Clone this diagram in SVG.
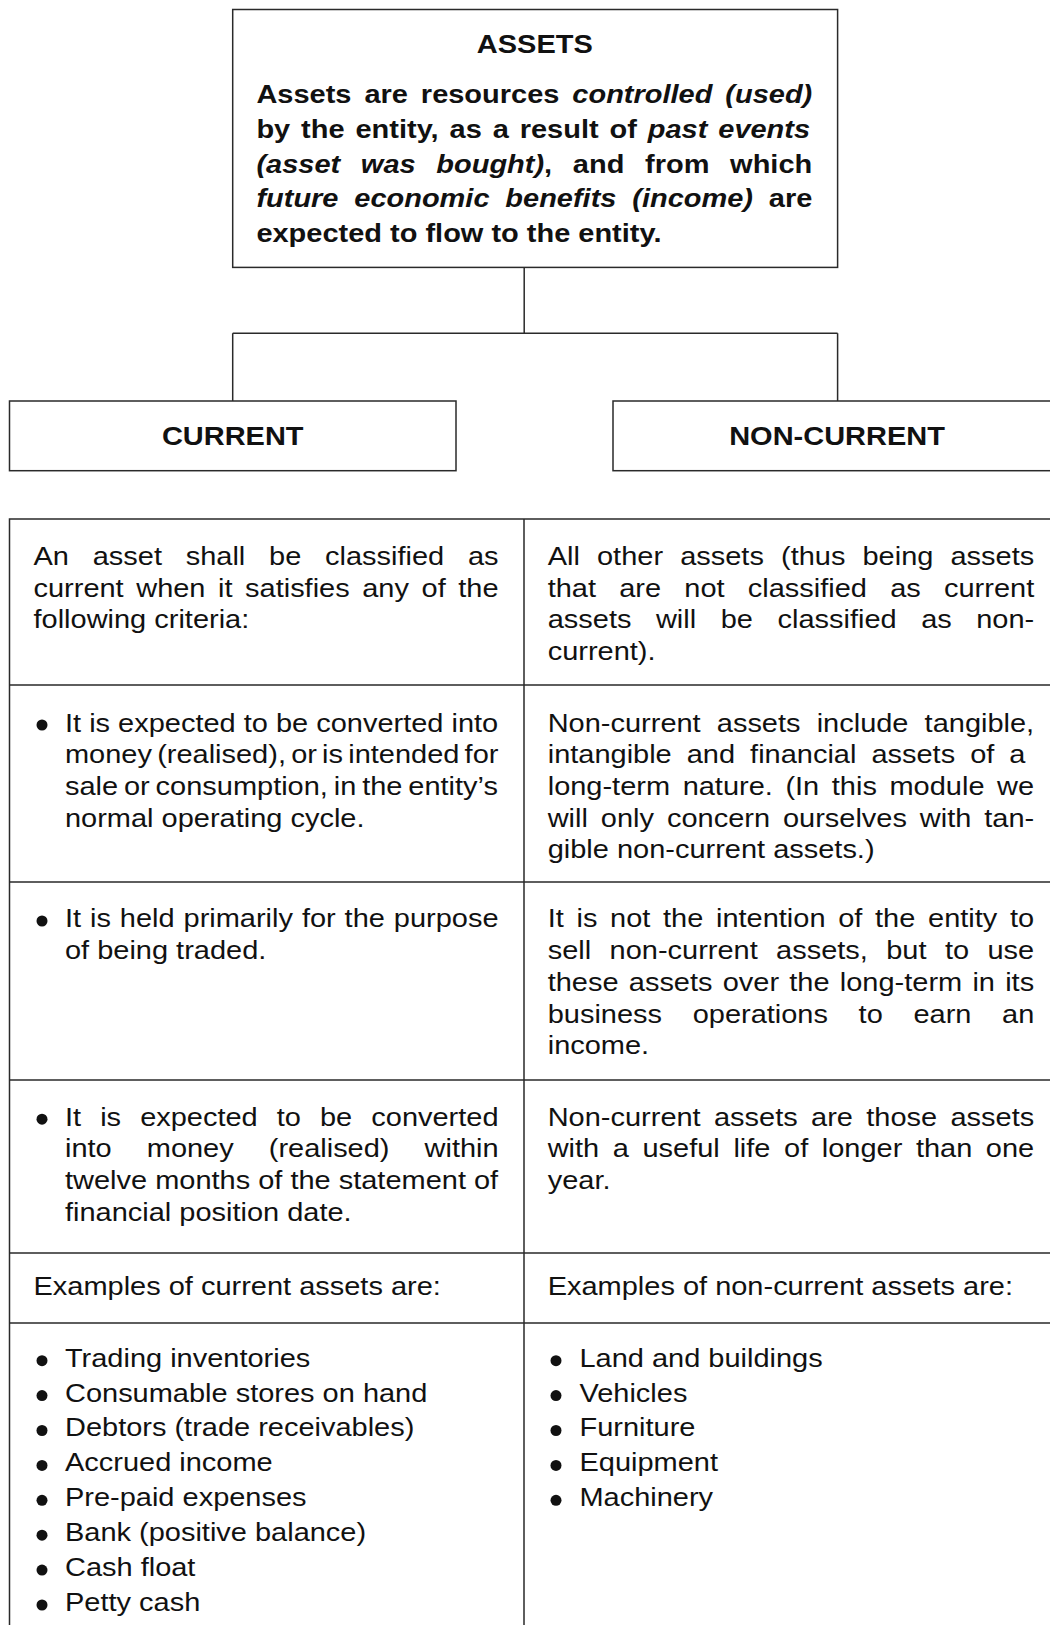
<svg xmlns="http://www.w3.org/2000/svg" width="1050" height="1625" viewBox="0 0 1050 1625">
<style>
.t{font-family:"Liberation Sans",Arial,sans-serif;font-size:26px;fill:#111}
.b{font-weight:bold}
.i{font-style:italic}
.c{text-anchor:middle}
.box{fill:#fff;stroke:#2a2a2a;stroke-width:1.5}
.ln{stroke:#2a2a2a;stroke-width:1.5;fill:none}
.bul{fill:#111}
</style>
<rect width="1050" height="1625" fill="#fff"/>
<g id="connectors">
<path class="ln" d="M524.2 267.4V333.3M232.7 333.3H837.6M232.7 333.3V401M837.6 333.3V401"/>
</g>
<g id="node-assets">
<rect class="box" x="232.7" y="9.5" width="604.9" height="257.9"/>
<g transform="translate(256.4 0) scale(1.115 1)">
<text class="t b c" x="249.7" y="53.3">ASSETS</text>
<text class="t b" x="0" y="103.5" style="word-spacing:4.42px">Assets are resources <tspan class="i">controlled (used)</tspan></text>
<text class="t b" x="0" y="138.3" style="word-spacing:2.57px">by the entity, as a result of <tspan class="i">past events</tspan></text>
<text class="t b" x="0" y="173" style="word-spacing:11.35px"><tspan class="i">(asset was bought)</tspan>, and from which</text>
<text class="t b" x="0" y="207.3" style="word-spacing:6.98px"><tspan class="i">future economic benefits (income)</tspan> are</text>
<text class="t b" x="0" y="241.8">expected to flow to the entity.</text>
</g>
</g>
<g id="node-current">
<rect class="box" x="9.5" y="401" width="446.5" height="69.7"/>
<text class="t b c" transform="translate(232.7 445) scale(1.115 1)">CURRENT</text>
</g>
<g id="node-noncurrent">
<rect class="box" x="613" y="401" width="448" height="69.7"/>
<text class="t b c" transform="translate(837 445) scale(1.115 1)">NON-CURRENT</text>
</g>
<g id="table">
<rect class="box" x="9.5" y="519" width="1050" height="1130"/>
<path class="ln" d="M524 519V1625M9.5 685H1060M9.5 882H1060M9.5 1080H1060M9.5 1253H1060M9.5 1323H1060"/>
<g id="bullets">
<circle class="bul" cx="42" cy="725" r="5.5"/>
<circle class="bul" cx="42" cy="921" r="5.5"/>
<circle class="bul" cx="42" cy="1119.2" r="5.5"/>
<circle class="bul" cx="42" cy="1360.7" r="5.5"/>
<circle class="bul" cx="42" cy="1395.6" r="5.5"/>
<circle class="bul" cx="42" cy="1430.5" r="5.5"/>
<circle class="bul" cx="42" cy="1465.4" r="5.5"/>
<circle class="bul" cx="42" cy="1500.3" r="5.5"/>
<circle class="bul" cx="42" cy="1535.2" r="5.5"/>
<circle class="bul" cx="42" cy="1570.1" r="5.5"/>
<circle class="bul" cx="42" cy="1605" r="5.5"/>
<circle class="bul" cx="556" cy="1360.7" r="5.5"/>
<circle class="bul" cx="556" cy="1395.6" r="5.5"/>
<circle class="bul" cx="556" cy="1430.5" r="5.5"/>
<circle class="bul" cx="556" cy="1465.4" r="5.5"/>
<circle class="bul" cx="556" cy="1500.3" r="5.5"/>
</g>
<g id="col-current" transform="translate(33.5 0) scale(1.115 1)">
<text class="t" x="0" y="565" style="word-spacing:14.1px">An asset shall be classified as</text>
<text class="t" x="0" y="596.75" style="word-spacing:4.04px">current when it satisfies any of the</text>
<text class="t" x="0" y="628.5">following criteria:</text>
<text class="t" x="28.25" y="731.7">It is expected to be converted into</text>
<text class="t" x="28.25" y="763.4" style="word-spacing:-2.55px">money (realised), or is intended for</text>
<text class="t" x="28.25" y="795.1" style="word-spacing:-1.97px">sale or consumption, in the entity’s</text>
<text class="t" x="28.25" y="826.8">normal operating cycle.</text>
<text class="t" x="28.25" y="927.5" style="word-spacing:0.78px">It is held primarily for the purpose</text>
<text class="t" x="28.25" y="959.2">of being traded.</text>
<text class="t" x="28.25" y="1125.7" style="word-spacing:9.88px">It is expected to be converted</text>
<text class="t" x="28.25" y="1157.4" style="word-spacing:24.22px">into money (realised) within</text>
<text class="t" x="28.25" y="1189.1">twelve months of the statement of</text>
<text class="t" x="28.25" y="1220.8">financial position date.</text>
<text class="t" x="0" y="1295.5">Examples of current assets are:</text>
<text class="t" x="28.25" y="1366.7">Trading inventories</text>
<text class="t" x="28.25" y="1401.6">Consumable stores on hand</text>
<text class="t" x="28.25" y="1436.5">Debtors (trade receivables)</text>
<text class="t" x="28.25" y="1471.4">Accrued income</text>
<text class="t" x="28.25" y="1506.3">Pre-paid expenses</text>
<text class="t" x="28.25" y="1541.2">Bank (positive balance)</text>
<text class="t" x="28.25" y="1576.1">Cash float</text>
<text class="t" x="28.25" y="1611">Petty cash</text>
</g>
<g id="col-noncurrent" transform="translate(547.7 0) scale(1.115 1)">
<text class="t" x="0" y="565" style="word-spacing:8.13px">All other assets (thus being assets</text>
<text class="t" x="0" y="596.75" style="word-spacing:13.61px">that are not classified as current</text>
<text class="t" x="0" y="628.5" style="word-spacing:14.78px">assets will be classified as non-</text>
<text class="t" x="0" y="660.25">current).</text>
<text class="t" x="0" y="731.7" style="word-spacing:7.26px">Non-current assets include tangible,</text>
<text class="t" x="0" y="763.4" style="word-spacing:6.26px">intangible and financial assets of a</text>
<text class="t" x="0" y="795.1" style="word-spacing:4.07px">long-term nature. (In this module we</text>
<text class="t" x="0" y="826.8" style="word-spacing:4.38px">will only concern ourselves with tan-</text>
<text class="t" x="0" y="858.5">gible non-current assets.)</text>
<text class="t" x="0" y="927.5" style="word-spacing:4.16px">It is not the intention of the entity to</text>
<text class="t" x="0" y="959.2" style="word-spacing:9.27px">sell non-current assets, but to use</text>
<text class="t" x="0" y="990.9" style="word-spacing:1.95px">these assets over the long-term in its</text>
<text class="t" x="0" y="1022.6" style="word-spacing:20.27px">business operations to earn an</text>
<text class="t" x="0" y="1054.3">income.</text>
<text class="t" x="0" y="1125.7" style="word-spacing:4.74px">Non-current assets are those assets</text>
<text class="t" x="0" y="1157.4" style="word-spacing:4.97px">with a useful life of longer than one</text>
<text class="t" x="0" y="1189.1">year.</text>
<text class="t" x="0" y="1295.5">Examples of non-current assets are:</text>
<text class="t" x="28.5" y="1366.7">Land and buildings</text>
<text class="t" x="28.5" y="1401.6">Vehicles</text>
<text class="t" x="28.5" y="1436.5">Furniture</text>
<text class="t" x="28.5" y="1471.4">Equipment</text>
<text class="t" x="28.5" y="1506.3">Machinery</text>
</g>
</g>
</svg>
